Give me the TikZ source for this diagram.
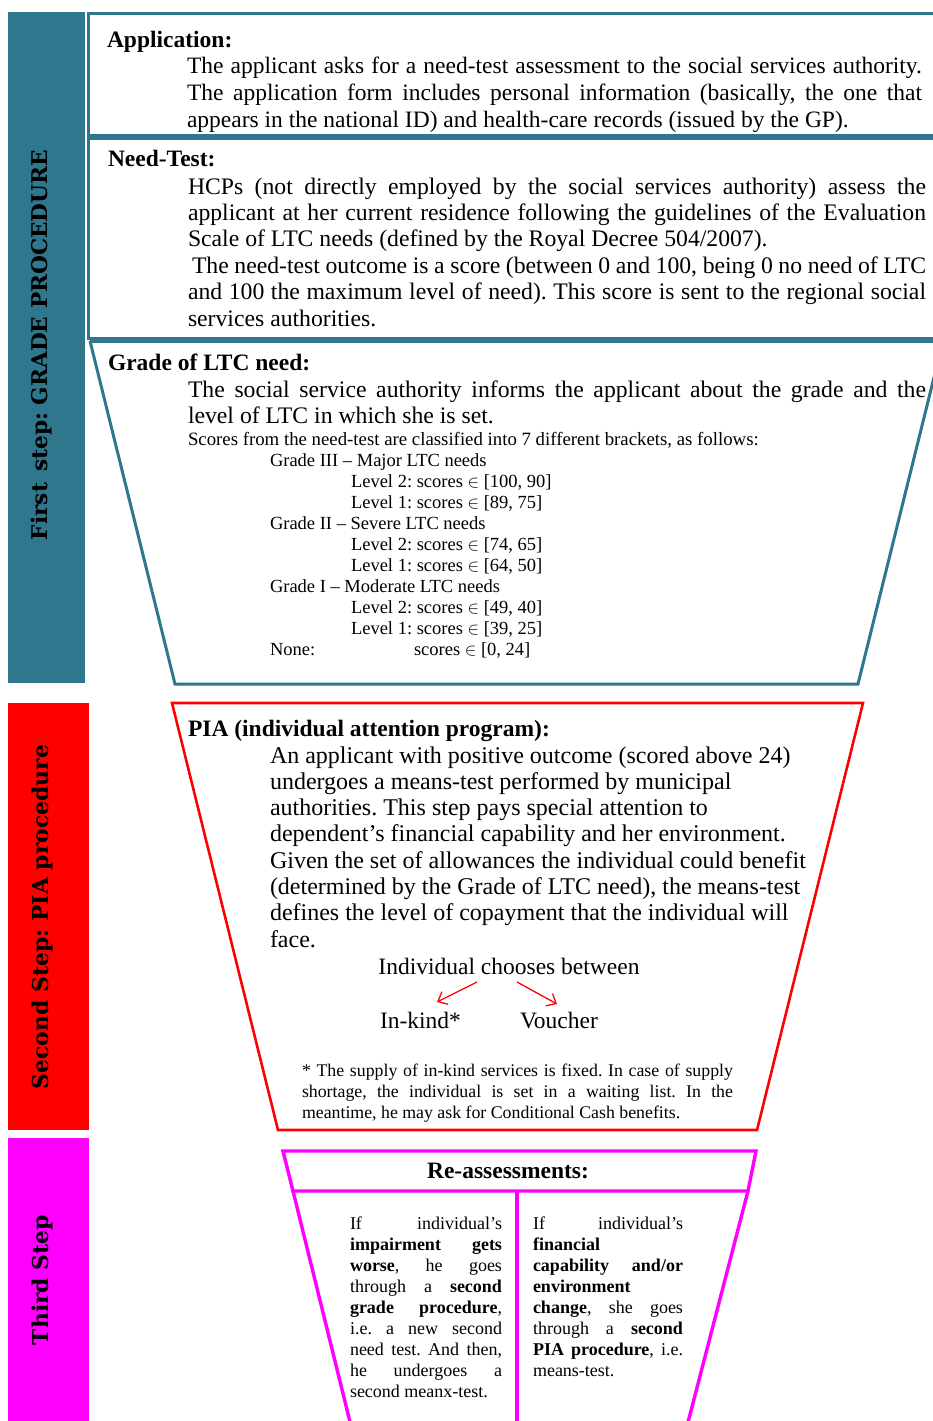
\documentclass[tikz,border=0pt]{standalone}
\usepackage{graphicx}
\usepackage{fontspec}
\setmainfont{Liberation Serif}
\newfontfamily\sidefont{DejaVu Serif}
\usetikzlibrary{arrows.meta}
\definecolor{tealc}{HTML}{2E778C}
\definecolor{redc}{HTML}{FF0000}
\definecolor{magc}{HTML}{FF00FF}
\newcommand\JL[1]{\makebox[\linewidth][s]{#1}}
\frenchspacing
\tikzset{
  txt/.style={anchor=base west, inner sep=0pt, outer sep=0pt},
  ctxt/.style={anchor=base, inner sep=0pt, outer sep=0pt},
  tealline/.style={draw=tealc, line width=3pt, line join=miter},
  redline/.style={draw=redc, line width=2.6pt, line join=miter},
  magline/.style={draw=magc, line width=3.4pt, line join=miter},
  sidelabel/.style={rotate=90, inner sep=0pt, font=\sidefont\bfseries},
  choice/.style={draw=redc, line width=1.3pt, -{Straight Barb[length=8pt,width=14pt,line width=1.3pt]}},
}
\begin{document}
\begin{tikzpicture}[x=1pt,y=-1pt]
\useasboundingbox (0,0) rectangle (933,1421);
% ---------- side bars ----------
\fill[tealc] (8,12) rectangle (85,683);
\fill[redc] (8,703) rectangle (89,1130);
\fill[magc] (8,1138) rectangle (89,1430);
\node[sidelabel] (lab1) at (42,345) {\resizebox{390pt}{!}{First\, step: GRADE PROCEDURE}};
\node[sidelabel] (lab2) at (42,917) {\resizebox{345pt}{!}{Second Step: PIA procedure}};
\node[sidelabel] (lab3) at (42,1280) {\resizebox{130pt}{!}{Third Step}};
% ---------- first step boxes ----------
\draw[tealline] (960,14) -- (88,14) -- (88,135) -- (960,135);
\draw[tealline] (960,138) -- (88,138) -- (88,338) -- (960,338);
\draw[tealline] (90,341) -- (960,341);
\draw[tealline] (90,341) -- (175,684) -- (858,684) -- (943,341);
% ---------- second step ----------
\draw[redline] (172,703) -- (863,703) -- (757,1130) -- (278,1130) -- cycle;
% ---------- third step ----------
\draw[magline] (283,1151) -- (756,1151) -- (748,1191) -- (293,1191) -- cycle;
\draw[magline] (293,1191) -- (352,1430);
\draw[magline] (748,1191) -- (686,1430);
\draw[magline] (517,1191) -- (517,1430);
% ---------- Application ----------
\node[txt] (apptitle) at (107,48) {\fontsize{23.5}{27}\selectfont\bfseries Application:};
\node[txt] (apptext) at (187,74) {\parbox[t]{735pt}{\fontsize{23.5}{27}\selectfont
\JL{The applicant asks for a need-test assessment to the social services authority.}\\
\JL{The application form includes personal information (basically, the one that}\\
appears in the national ID) and health-care records (issued by the GP).}};
% ---------- Need-Test ----------
\node[txt] (needtitle) at (108,166) {\fontsize{23.5}{27}\selectfont\bfseries Need-Test:};
\node[txt] (needtext) at (188,194) {\parbox[t]{738pt}{\fontsize{23.7}{26.4}\selectfont
\JL{HCPs (not directly employed by the social services authority) assess the}\\
\JL{applicant at her current residence following the guidelines of the Evaluation}\\
Scale of LTC needs (defined by the Royal Decree 504/2007).\\
\JL{\hspace*{4pt}The need-test outcome is a score (between 0 and 100, being 0 no need of LTC}\\
\JL{and 100 the maximum level of need). This score is sent to the regional social}\\
services authorities.}};
% ---------- Grade of LTC need ----------
\node[txt] (gradetitle) at (108,370) {\fontsize{23.5}{27}\selectfont\bfseries Grade of LTC need:};
\node[txt] (gradetext) at (188,397) {\parbox[t]{738pt}{\fontsize{23.7}{26.4}\selectfont
\JL{The social service authority informs the applicant about the grade and the}\\
level of LTC in which she is set.}};
\node[txt] (scores) at (188,445) {\fontsize{18.8}{21}\selectfont Scores from the need-test are classified into 7 different brackets, as follows:};
\node[txt] (brackets) at (270,466) {\parbox[t]{400pt}{\fontsize{18.5}{21}\selectfont
Grade III -- Major LTC needs\\
\hspace*{81pt}Level 2: scores $\in$ [100, 90]\\
\hspace*{81pt}Level 1: scores $\in$ [89, 75]\\
Grade II -- Severe LTC needs\\
\hspace*{81pt}Level 2: scores $\in$ [74, 65]\\
\hspace*{81pt}Level 1: scores $\in$ [64, 50]\\
Grade I -- Moderate LTC needs\\
\hspace*{81pt}Level 2: scores $\in$ [49, 40]\\
\hspace*{81pt}Level 1: scores $\in$ [39, 25]\\
\makebox[144pt][l]{None:}scores $\in$ [0, 24]}};
% ---------- PIA ----------
\node[txt] (piatitle) at (188,736) {\fontsize{23.5}{27}\selectfont\bfseries PIA (individual attention program):};
\node[txt] (piatext) at (270,763) {\parbox[t]{560pt}{\fontsize{24}{26.3}\selectfont
An applicant with positive outcome (scored above 24)\\
undergoes a means-test performed by municipal\\
authorities. This step pays special attention to\\
dependent's financial capability and her environment.\\
Given the set of allowances the individual could benefit\\
(determined by the Grade of LTC need), the means-test\\
defines the level of copayment that the individual will\\
face.}};
\node[ctxt] (chooses) at (509,974) {\fontsize{23.5}{27}\selectfont Individual chooses between};
\node[txt] (inkind) at (380,1028) {\fontsize{23.5}{27}\selectfont In-kind*};
\node[txt] (voucher) at (520,1028) {\fontsize{23.5}{27}\selectfont Voucher};
\coordinate (a1s) at (477,982);
\coordinate (a1e) at (437,1002);
\coordinate (a2s) at (517,982);
\coordinate (a2e) at (557,1004);
\draw[choice] (a1s) -- (a1e);
\draw[choice] (a2s) -- (a2e);
\node[txt] (foot) at (302,1076) {\parbox[t]{431pt}{\fontsize{17.8}{21}\selectfont
\JL{* The supply of in-kind services is fixed. In case of supply}\\
\JL{shortage, the individual is set in a waiting list. In the}\\
meantime, he may ask for Conditional Cash benefits.}};
% ---------- Re-assessments ----------
\node[ctxt] (reass) at (508,1178) {\fontsize{23.5}{27}\selectfont\bfseries Re-assessments:};
\node[txt] (leftcol) at (350,1229) {\parbox[t]{152pt}{\fontsize{18}{21}\selectfont
\JL{If individual's}\\
\JL{\textbf{impairment gets}}\\
\JL{\textbf{worse}, he goes}\\
\JL{through a \textbf{second}}\\
\JL{\textbf{grade procedure},}\\
\JL{i.e. a new second}\\
\JL{need test. And then,}\\
\JL{he undergoes a}\\
second meanx-test.}};
\node[txt] (rightcol) at (533,1229) {\parbox[t]{150pt}{\fontsize{18}{21}\selectfont
\JL{If individual's}\\
\textbf{financial}\\
\JL{\textbf{capability and/or}}\\
\textbf{environment}\\
\JL{\textbf{change}, she goes}\\
\JL{through a \textbf{second}}\\
\JL{\textbf{PIA procedure}, i.e.}\\
means-test.}};
\end{tikzpicture}
\end{document}
